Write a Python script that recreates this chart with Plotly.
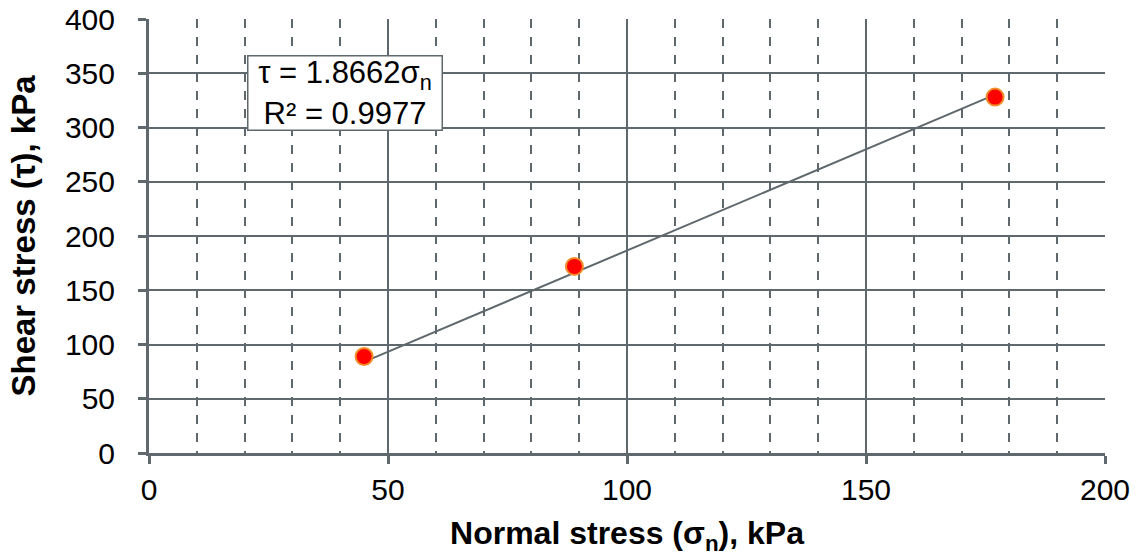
import plotly.graph_objects as go

# Data
normal_stress = [45, 89, 177]
shear_stress = [89, 172, 328]
slope = 1.8662
r2 = 0.9977
x_ticks = [0, 50, 100, 150, 200]
y_ticks = [0, 50, 100, 150, 200, 250, 300, 350, 400]

AX = "#5f686d"
FONT = "Liberation Sans"

x_fit = [min(normal_stress), max(normal_stress)]
y_fit = [slope * v for v in x_fit]

fig = go.Figure()
fig.add_trace(go.Scatter(x=x_fit, y=y_fit, mode="lines",
                         line=dict(color=AX, width=2), hoverinfo="skip",
                         showlegend=False))
fig.add_trace(go.Scatter(x=normal_stress, y=shear_stress, mode="markers",
                         marker=dict(color="#ff0000", size=17,
                                     line=dict(color="#f28c28", width=2)),
                         showlegend=False))

fig.add_annotation(
    x=20.5, y=367, xref="x", yref="y", xanchor="left", yanchor="top",
    text=f"τ = {slope}σ<sub>n</sub><br>R² = {r2}",
    showarrow=False, align="center", width=193, height=73,
    font=dict(family=FONT, size=31, color="black"),
    bgcolor="white", bordercolor=AX, borderwidth=1.5, borderpad=0,
)

fig.update_layout(
    width=1142, height=556,
    margin=dict(l=149, r=37, t=19, b=103),
    paper_bgcolor="white", plot_bgcolor="white",
    font=dict(family=FONT, size=30, color="black"),
    xaxis=dict(
        range=[0, 200], tickvals=x_ticks, ticktext=[str(v) for v in x_ticks],
        showgrid=True, gridcolor=AX, gridwidth=1.5,
        minor=dict(dtick=10, showgrid=True, griddash="dash",
                   gridcolor=AX, gridwidth=1.5),
        showline=True, linecolor=AX, linewidth=3,
        ticks="outside", ticklen=8, tickwidth=3, tickcolor=AX,
        zeroline=False, automargin=False,
        title=dict(text="<b>Normal stress (σ<sub>n</sub>), kPa</b>",
                   font=dict(size=32, family=FONT), standoff=22),
        tickfont=dict(size=30),
    ),
    yaxis=dict(
        range=[0, 400], tickvals=y_ticks, ticktext=[str(v) for v in y_ticks],
        showgrid=True, gridcolor=AX, gridwidth=1.5,
        showline=True, linecolor=AX, linewidth=3,
        ticks="outside", ticklen=8, tickwidth=3, tickcolor=AX,
        ticklabelstandoff=17,
        zeroline=False, automargin=False,
        title=dict(text="<b>Shear stress (τ), kPa</b>",
                   font=dict(size=33, family=FONT), standoff=20),
        tickfont=dict(size=30),
    ),
)

fig.write_html("out.html", config={"displayModeBar": False},
               post_script="document.body.style.margin='0';document.body.style.padding='0';")
